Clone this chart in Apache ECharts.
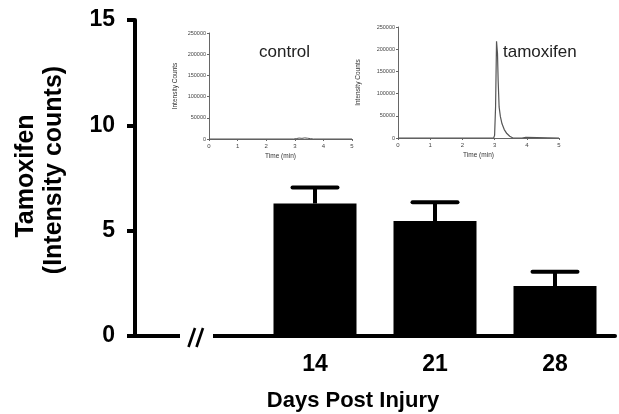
<!DOCTYPE html>
<html><head><meta charset="utf-8">
<script src="https://cdn.jsdelivr.net/npm/echarts/dist/echarts.min.js"></script>
<style>html,body{margin:0;padding:0;background:#fff}#c{width:619px;height:414px}</style>
</head><body><div id="c"></div>
<script>
// ---- data ----
const dayCategories = ['', '14', '21', '28'];      // first slot = axis break
const meanValues = [null, 6.29, 5.46, 2.37];
const upperErrorValues = [null, 7.05, 6.35, 3.05];
const mainYTicks = [0, 5, 10, 15];
const insetTimeTicks = [0, 1, 2, 3, 4, 5];
const insetIntensityTicks = [0, 50000, 100000, 150000, 200000, 250000];
const controlTrace = [[0,0],[2.95,0],[3.05,900],[3.15,2200],[3.25,1500],[3.35,2600],[3.45,1800],[3.55,900],[3.65,0],[5,0]];
const tamoxifenTrace = [[0,0],[2.97,0],[3.0,6000],[3.03,70000],[3.06,218000],[3.09,190000],[3.11,130000],[3.14,70000],[3.18,48000],[3.23,32000],[3.3,19000],[3.38,10000],[3.47,4000],[3.57,0],[3.85,0],[3.9,2500],[3.97,1500],[4.02,0],[5,0]];

const FF = 'Liberation Sans, Arial, sans-serif';
const chart = echarts.init(document.getElementById('c'), null, {renderer: 'canvas'});

function insetAxes(idx, yNameGap) {
  return {
    x: {
      type: 'value', gridIndex: idx, min: insetTimeTicks[0], max: insetTimeTicks[insetTimeTicks.length-1], interval: 1,
      name: 'Time (min)', nameLocation: 'middle', nameGap: 14,
      nameTextStyle: {fontSize: 6.5, color: '#333', fontFamily: FF},
      axisLine: {lineStyle: {color: '#666', width: 1}},
      axisTick: {length: 2, lineStyle: {color: '#666', width: 1}},
      axisLabel: {fontSize: 6, color: '#444', margin: 4, fontFamily: FF},
      splitLine: {show: false}
    },
    y: {
      type: 'value', gridIndex: idx, min: insetIntensityTicks[0], max: insetIntensityTicks[insetIntensityTicks.length-1], interval: 50000,
      name: 'Intensity Counts', nameLocation: 'middle', nameRotate: 90, nameGap: yNameGap,
      nameTextStyle: {fontSize: 6.5, color: '#333', fontFamily: FF},
      axisLine: {show: true, lineStyle: {color: '#666', width: 1}},
      axisTick: {show: true, length: 2, lineStyle: {color: '#666', width: 1}},
      axisLabel: {fontSize: 5.5, color: '#444', margin: 3, fontFamily: FF, formatter: function (v) { return String(v); }},
      splitLine: {show: false}
    }
  };
}
const ctl = insetAxes(1, 30), tam = insetAxes(2, 36);

const option = {
  animation: false,
  backgroundColor: '#fff',
  grid: [
    {left: 135, top: 20, width: 480, height: 316},
    {left: 209, top: 33, width: 143, height: 106},
    {left: 398, top: 27, width: 161, height: 111}
  ],
  xAxis: [
    {
      type: 'category', gridIndex: 0, data: dayCategories,
      axisLine: {lineStyle: {color: '#000', width: 4}},
      axisTick: {alignWithLabel: true, length: 9, interval: function (i) { return i > 0; }, lineStyle: {color: '#000', width: 4}},
      axisLabel: {fontSize: 23, fontWeight: 'bold', color: '#000', margin: 17, fontFamily: FF, interval: 0}
    },
    ctl.x, tam.x
  ],
  yAxis: [
    {
      type: 'value', gridIndex: 0, min: mainYTicks[0], max: mainYTicks[mainYTicks.length-1], interval: 5,
      axisLine: {show: true, lineStyle: {color: '#000', width: 4}},
      axisTick: {show: true, length: 8, lineStyle: {color: '#000', width: 4}},
      axisLabel: {fontSize: 23, fontWeight: 'bold', color: '#000', margin: 20, fontFamily: FF},
      splitLine: {show: false}
    },
    ctl.y, tam.y
  ],
  series: [
    {
      type: 'bar', xAxisIndex: 0, yAxisIndex: 0, data: meanValues, barWidth: 83,
      itemStyle: {color: '#000'}, z: 2
    },
    {
      type: 'custom', xAxisIndex: 0, yAxisIndex: 0, z: 3,
      data: meanValues.map(function (m, i) { return m == null ? null : [i, m, upperErrorValues[i]]; }).filter(Boolean),
      renderItem: function (params, api) {
        const p0 = api.coord([api.value(0), api.value(1)]);
        const p1 = api.coord([api.value(0), api.value(2)]);
        const half = 22.5;
        return {type: 'group', children: [
          {type: 'line', shape: {x1: p0[0], y1: p0[1], x2: p1[0], y2: p1[1]}, style: {stroke: '#000', lineWidth: 4}},
          {type: 'line', shape: {x1: p1[0]-half, y1: p1[1], x2: p1[0]+half, y2: p1[1]}, style: {stroke: '#000', lineWidth: 4, lineCap: 'round'}}
        ]};
      }
    },
    {
      type: 'line', xAxisIndex: 1, yAxisIndex: 1, data: controlTrace, showSymbol: false,
      lineStyle: {color: '#555', width: 1}
    },
    {
      type: 'line', xAxisIndex: 2, yAxisIndex: 2, data: tamoxifenTrace, showSymbol: false,
      lineStyle: {color: '#555', width: 1.2}
    }
  ]
};
chart.setOption(option);

// axis break and titles, positioned from the axes
const bx = chart.convertToPixel({xAxisIndex: 0}, 0);
const by = chart.convertToPixel({yAxisIndex: 0}, 0);
chart.setOption({
  graphic: [
    {type: 'rect', z: 100, shape: {x: bx - 15, y: by - 6, width: 33, height: 12}, style: {fill: '#fff'}},
    {type: 'line', z: 101, shape: {x1: bx, y1: by - 8, x2: bx - 6.5, y2: by + 11}, style: {stroke: '#000', lineWidth: 2.6}},
    {type: 'line', z: 101, shape: {x1: bx + 8, y1: by - 8, x2: bx + 1.5, y2: by + 11}, style: {stroke: '#000', lineWidth: 2.6}},
    {type: 'text', z: 101, x: 26, y: 176, rotation: Math.PI / 2,
      style: {text: 'Tamoxifen', fontSize: 25, fontWeight: 'bold', fill: '#000', fontFamily: FF, textAlign: 'center', textVerticalAlign: 'middle'}},
    {type: 'text', z: 101, x: 54, y: 170, rotation: Math.PI / 2,
      style: {text: '(Intensity counts)', fontSize: 25, fontWeight: 'bold', fill: '#000', fontFamily: FF, textAlign: 'center', textVerticalAlign: 'middle'}},
    {type: 'text', z: 101, x: 353, y: 401,
      style: {text: 'Days Post Injury', fontSize: 22, fontWeight: 'bold', fill: '#000', fontFamily: FF, textAlign: 'center', textVerticalAlign: 'middle'}},
    {type: 'text', z: 101, x: 259, y: 52,
      style: {text: 'control', fontSize: 17, fill: '#222', fontFamily: FF, textAlign: 'left', textVerticalAlign: 'middle'}},
    {type: 'text', z: 101, x: 503, y: 52,
      style: {text: 'tamoxifen', fontSize: 17, fill: '#222', fontFamily: FF, textAlign: 'left', textVerticalAlign: 'middle'}}
  ]
});
</script>
</body></html>
